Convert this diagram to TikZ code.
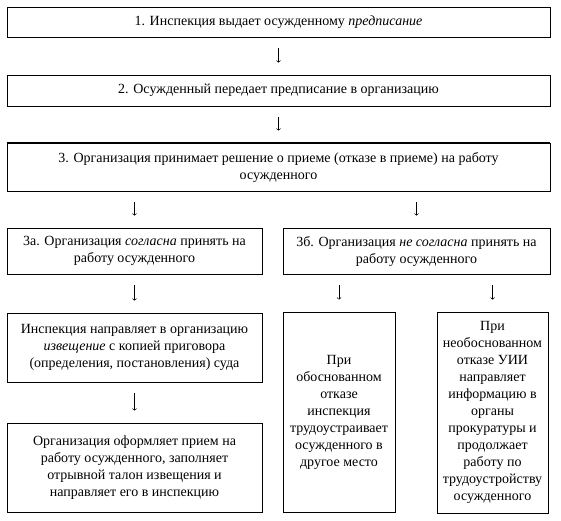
\documentclass[tikz,border=0pt]{standalone}
\usepackage{fontspec}
\setmainfont{Liberation Serif}
\usetikzlibrary{calc}

\begin{document}
\begin{tikzpicture}[x=1pt, y=-1pt]
                \tikzstyle{box} = [draw, line width=0.8pt, align=center, inner sep=0pt, font=\fontsize{14}{17}\selectfont]
                \tikzstyle{pass} = [->, line width=0.6pt, shorten <=11pt, shorten >=12pt]
                \useasboundingbox (0, 0) rectangle (561, 520);
                \node[box, minimum width=543pt, minimum height=30pt] (insp) at (278.5, 22) {1. Инспекция выдает осужденному \textit{предписание}};
                \node[box, minimum width=543pt, minimum height=31pt] (hand) at (278.5, 90.5) {2. Осужденный передает предписание в организацию};
                \node[box, minimum width=543pt, minimum height=48pt] (decide) at (278.5, 167) {3. Организация принимает решение о приеме (отказе в приеме) на работу\\осужденного};
                \draw[line width=2pt] (decide.north west) -- (decide.north east);
                \node[box, minimum width=255pt, minimum height=46pt] (agree) at (134.5, 251) {3а. Организация \textit{согласна} принять на\\работу осужденного};
                \node[box, minimum width=267pt, minimum height=46pt] (refuse) at (416.5, 251) {3б. Организация \textit{не согласна} принять на\\работу осужденного};
                \node[box, minimum width=255pt, minimum height=69pt] (notice) at (134.5, 347.5) {Инспекция направляет в организацию\\\textit{извещение} с копией приговора\\(определения, постановления) суда};
                \node[box, minimum width=255pt, minimum height=89pt] (enrol) at (134.5, 467.5) {Организация оформляет прием на\\работу осужденного, заполняет\\отрывной талон извещения и\\направляет его в инспекцию};
                \node[box, minimum width=112pt, minimum height=200pt] (placed) at (339, 412) {При\\обоснованном\\отказе\\инспекция\\трудоустраивает\\осужденного в\\другое место};
                \node[box, minimum width=111pt, minimum height=201pt] (report) at (492.5, 412.5) {При\\необоснованном\\отказе УИИ\\направляет\\информацию в\\органы\\прокуратуры и\\продолжает\\работу по\\трудоустройству\\осужденного};
                \draw[pass] (insp) -- (hand);
                \draw[pass] (hand) -- (decide);
                \draw[pass] (decide.south -| agree.north) -- (agree);
                \draw[pass] (decide.south -| refuse.north) -- (refuse);
                \draw[pass] (agree) -- (notice);
                \draw[pass] (notice) -- (enrol);
                \draw[pass] (refuse.south -| placed.north) -- (placed);
                \draw[pass] (refuse.south -| report.north) -- (report);
            \end{tikzpicture}
\end{document}
